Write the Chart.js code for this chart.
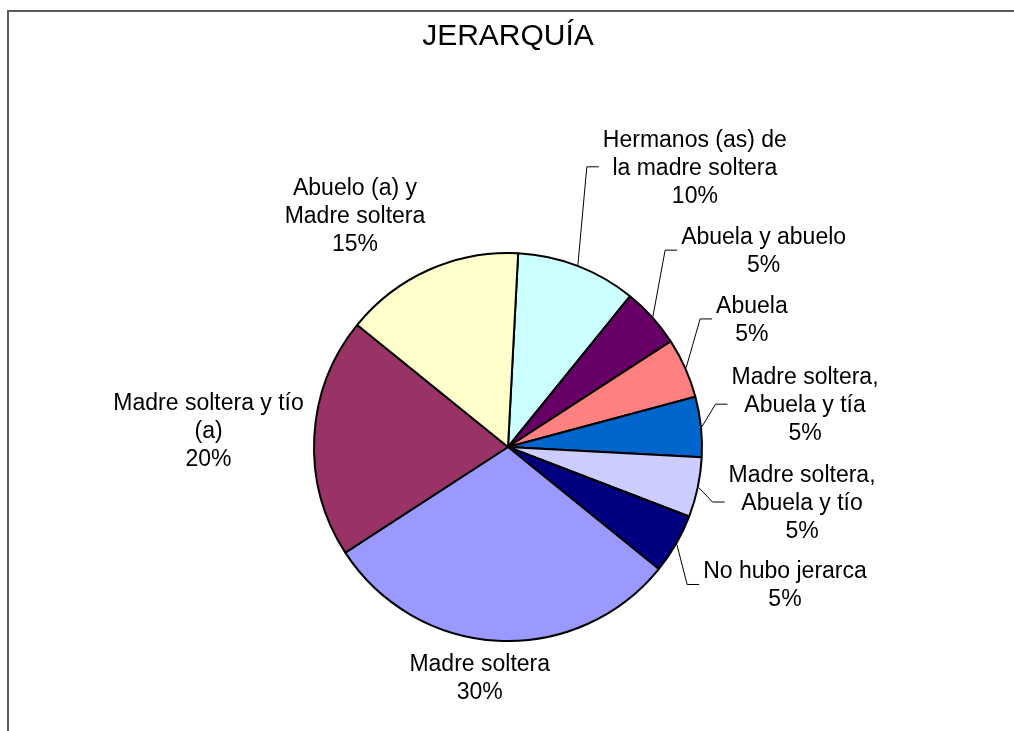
<!DOCTYPE html>
<html>
<head>
<meta charset="utf-8">
<title>JERARQUÍA</title>
<script src="https://cdn.jsdelivr.net/npm/chart.js@4/dist/chart.umd.min.js"></script>
<style>
    body { margin: 0; background: #fff; }
    #wrap { width: 1014px; height: 731px; position: relative; }
</style>
</head>
<body>
<div id="wrap"><canvas id="pieChart"></canvas></div>
<script>
// Data (20 households -> 5% steps)
const categories = [
    ['Hermanos (as) de', 'la madre soltera'],
    ['Abuela y abuelo'],
    ['Abuela'],
    ['Madre soltera,', 'Abuela y tía'],
    ['Madre soltera,', 'Abuela y tío'],
    ['No hubo jerarca'],
    ['Madre soltera'],
    ['Madre soltera y tío', '(a)'],
    ['Abuelo (a) y', 'Madre soltera']
];
const percentages = [10, 5, 5, 5, 5, 5, 30, 20, 15];

const sliceColors = [
    '#CCFFFF', '#660066', '#FF8080', '#0066CC', '#CCCCFF',
    '#000080', '#9999FF', '#993366', '#FFFFCC'
];

// Label placement: direction (degrees clockwise from top) and distance in radii
const labelDirs = [33.7, 52.4, 62.3, 81.8, 100.6, 116.4, 187.0, 273.2, 326.6];
const labelDist = [1.736, 1.663, 1.420, 1.547, 1.542, 1.594, 1.197, 1.546, 1.433];
const hasLeader = [true, true, true, true, true, true, false, false, false];

const FONT = "'Liberation Sans', Arial, sans-serif";
const LABEL_SIZE = 23;
const LINE_H = 28;

// White page with the grey frame on the top and left
const framePlugin = {
    id: 'frame',
    beforeDraw(chart) {
        const ctx = chart.ctx;
        ctx.save();
        ctx.fillStyle = '#fff';
        ctx.fillRect(0, 0, chart.width, chart.height);
        ctx.strokeStyle = '#5a5a5a';
        ctx.lineWidth = 2;
        ctx.beginPath();
        ctx.moveTo(8, chart.height);
        ctx.lineTo(8, 11);
        ctx.lineTo(chart.width, 11);
        ctx.stroke();
        ctx.restore();
    }
};

// Category + percent labels, with leader lines for the small slices
const sliceLabels = {
    id: 'sliceLabels',
    afterDatasetsDraw(chart) {
        const ctx = chart.ctx;
        const meta = chart.getDatasetMeta(0);
        const total = percentages.reduce((a, b) => a + b, 0);
        ctx.save();
        ctx.font = LABEL_SIZE + 'px ' + FONT;
        ctx.fillStyle = '#000';
        ctx.textAlign = 'center';
        ctx.textBaseline = 'alphabetic';

        meta.data.forEach((arc, i) => {
            const p = arc.getProps(['x', 'y', 'startAngle', 'endAngle', 'outerRadius'], true);
            const r = p.outerRadius;
            const dir = (labelDirs[i] - 90) * Math.PI / 180;
            const cx = p.x + Math.cos(dir) * r * labelDist[i];
            const cy = p.y + Math.sin(dir) * r * labelDist[i];

            const lines = categories[i].concat([Math.round(percentages[i] / total * 100) + '%']);
            const firstBase = cy - (lines.length - 1) / 2 * LINE_H + 8;
            lines.forEach((txt, k) => {
                ctx.fillText(txt, cx, firstBase + k * LINE_H);
            });

            if (hasLeader[i]) {
                const widest = Math.max(...lines.map(t => ctx.measureText(t).width));
                const endX = cx - widest / 2 - 4;
                const elbowX = endX - 12;
                const mid = (p.startAngle + p.endAngle) / 2;
                const sx = p.x + Math.cos(mid) * (r + 1);
                const sy = p.y + Math.sin(mid) * (r + 1);
                ctx.strokeStyle = '#000';
                ctx.lineWidth = 1;
                ctx.beginPath();
                ctx.moveTo(sx, sy);
                ctx.lineTo(elbowX, cy);
                ctx.lineTo(endX, cy);
                ctx.stroke();
            }
        });
        ctx.restore();
    }
};

const ctx = document.getElementById('pieChart').getContext('2d');
new Chart(ctx, {
    type: 'pie',
    data: {
        labels: categories,
        datasets: [{
            data: percentages,
            backgroundColor: sliceColors,
            borderColor: '#000',
            borderWidth: 2,
            radius: 194
        }]
    },
    options: {
        responsive: true,
        maintainAspectRatio: false,
        animation: false,
        rotation: 3,
        layout: {
            padding: { left: 8, right: 6, top: 0, bottom: 1 }
        },
        plugins: {
            legend: { display: false },
            tooltip: { enabled: false },
            title: {
                display: true,
                text: 'JERARQUÍA',
                color: '#000',
                font: { family: FONT, size: 30, weight: 'normal', lineHeight: 1.2 },
                padding: { top: 19, bottom: 109 }
            }
        }
    },
    plugins: [framePlugin, sliceLabels]
});
</script>
</body>
</html>
